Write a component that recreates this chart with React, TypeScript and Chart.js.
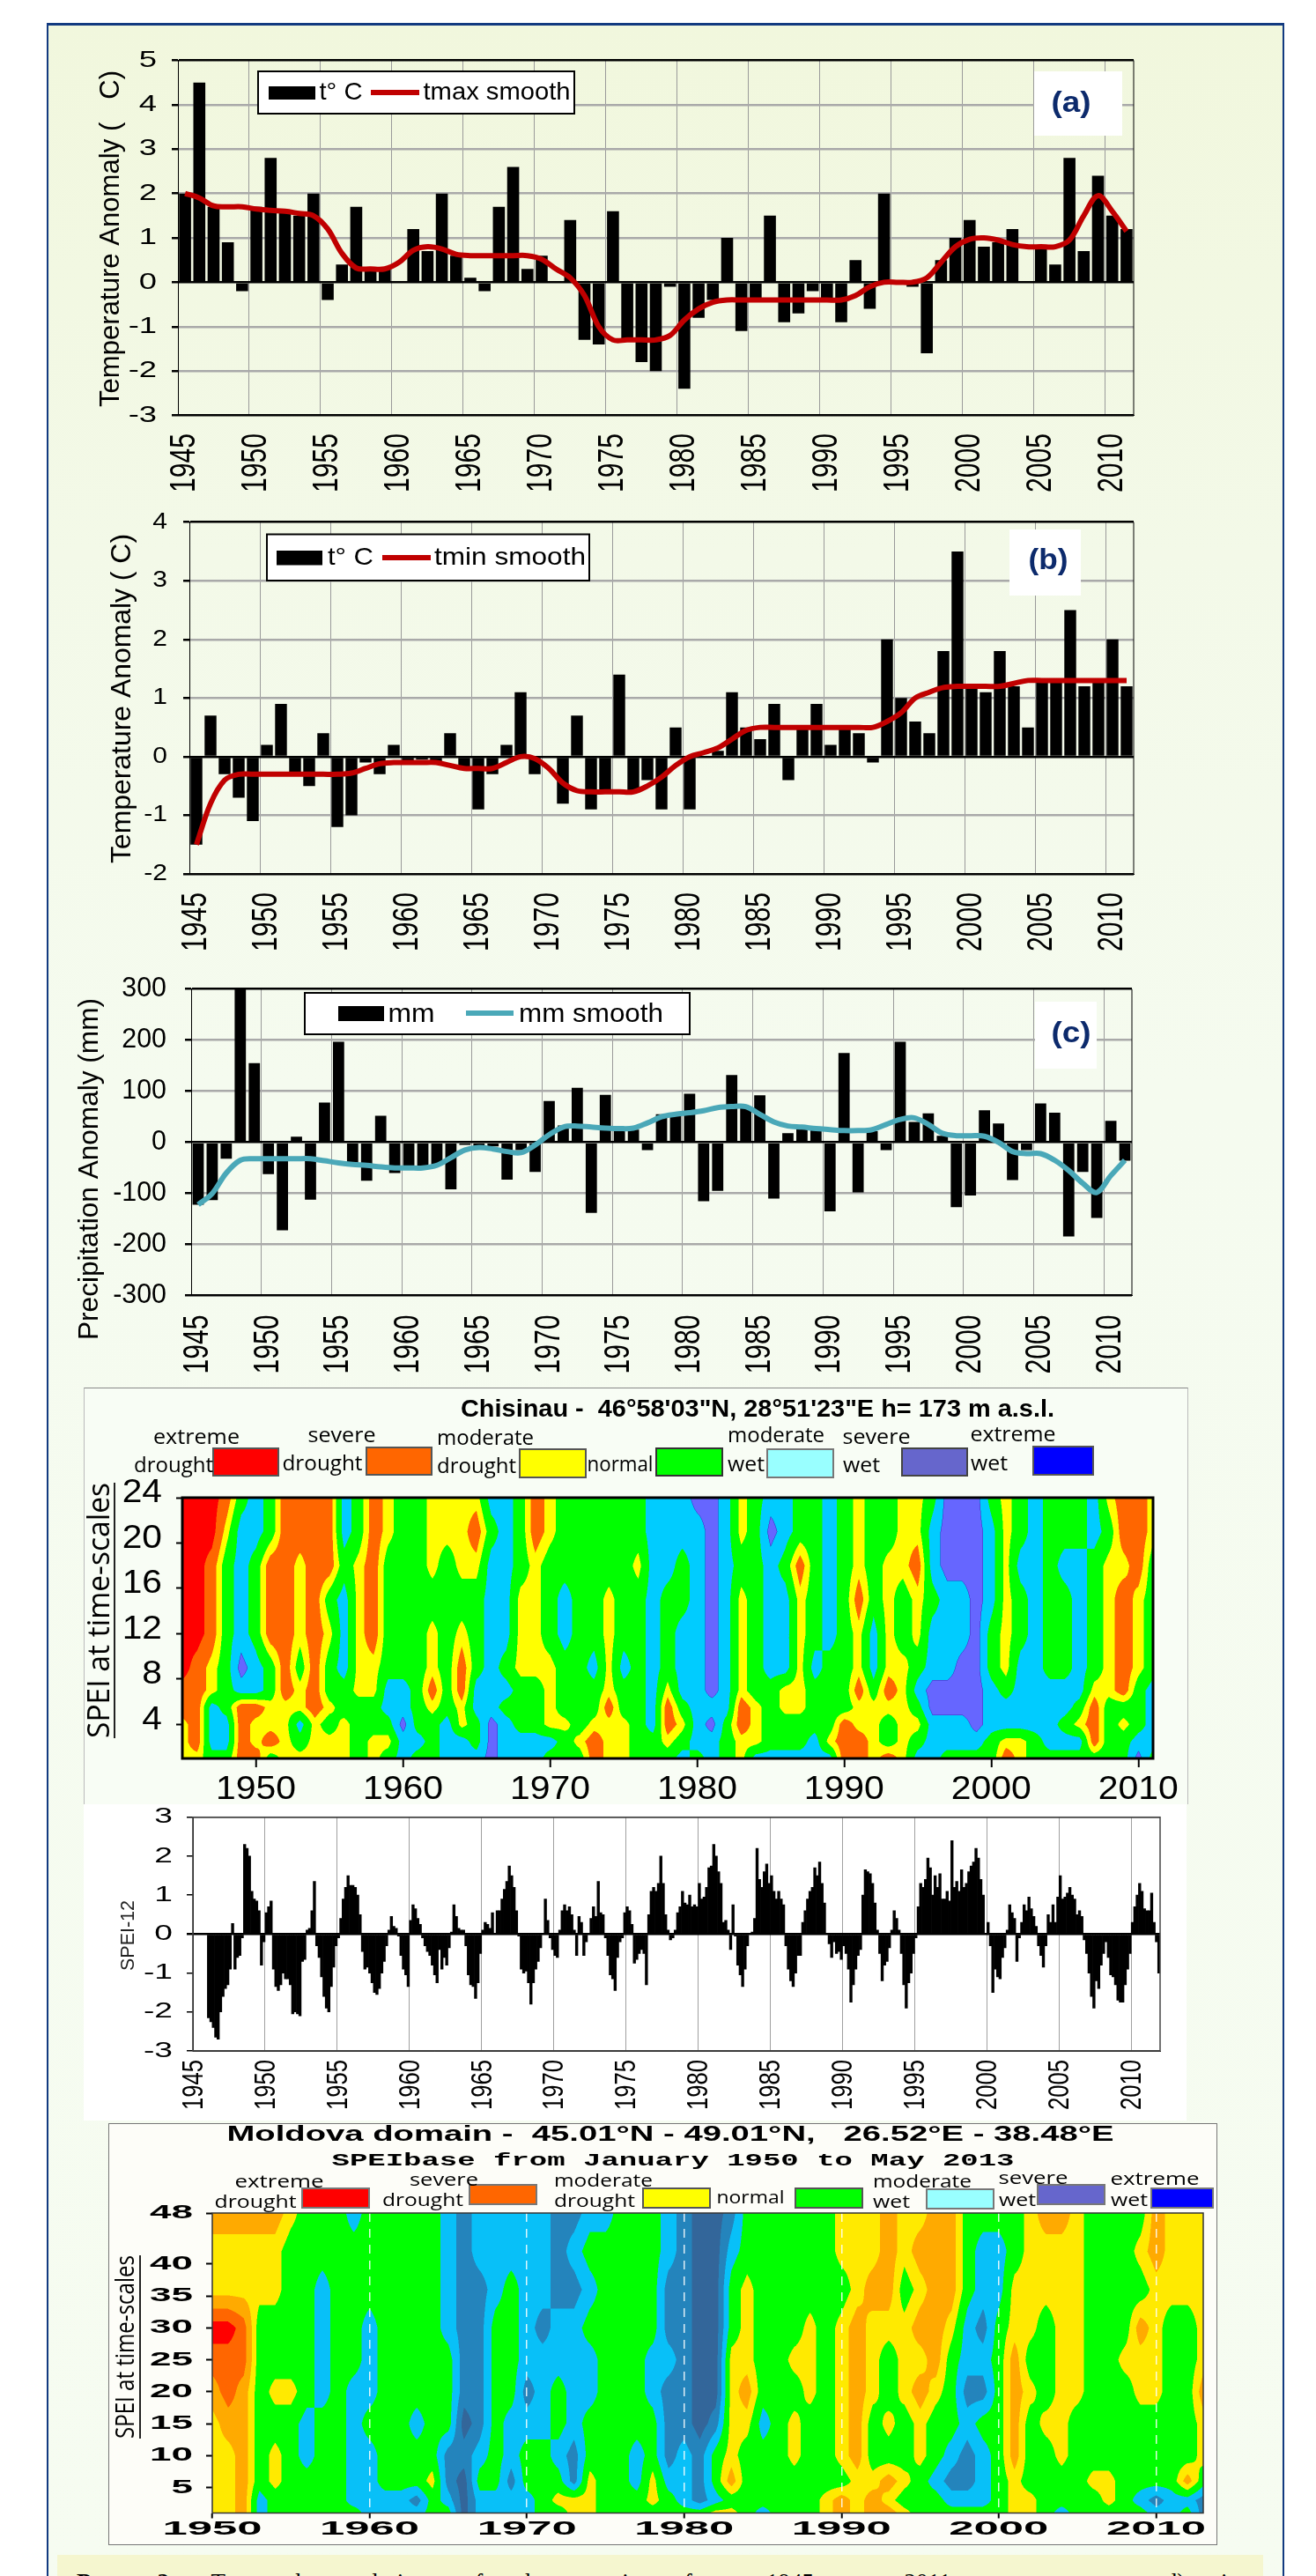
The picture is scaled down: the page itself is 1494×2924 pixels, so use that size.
import React, { useEffect, useRef } from "react";
import { Chart, registerables } from "chart.js";
Chart.register(...registerables);

// ---------- data ----------
const YEARS = ["1945","1946","1947","1948","1949","1950","1951","1952","1953","1954","1955","1956","1957","1958","1959","1960","1961","1962","1963","1964","1965","1966","1967","1968","1969","1970","1971","1972","1973","1974","1975","1976","1977","1978","1979","1980","1981","1982","1983","1984","1985","1986","1987","1988","1989","1990","1991","1992","1993","1994","1995","1996","1997","1998","1999","2000","2001","2002","2003","2004","2005","2006","2007","2008","2009","2010","2011"];
const TMAX_BARS = [2.0,4.5,1.7,0.9,-0.2,1.7,2.8,1.6,1.5,2.0,-0.4,0.4,1.7,0.3,0.3,0.0,1.2,0.7,2.0,0.6,0.1,-0.2,1.7,2.6,0.3,0.6,0.0,1.4,-1.3,-1.4,1.6,-1.3,-1.8,-2.0,-0.1,-2.4,-0.8,-0.4,1.0,-1.1,-0.4,1.5,-0.9,-0.7,-0.2,-0.4,-0.9,0.5,-0.6,2.0,0.0,-0.1,-1.6,0.5,1.0,1.4,0.8,0.9,1.2,0.0,0.8,0.4,2.8,0.7,2.4,1.5,1.2];
const TMAX_SMOOTH = [2.0,1.9,1.72,1.7,1.7,1.65,1.62,1.6,1.55,1.5,1.2,0.65,0.32,0.3,0.3,0.45,0.72,0.8,0.75,0.63,0.6,0.6,0.6,0.6,0.6,0.52,0.3,0.1,-0.3,-1.0,-1.3,-1.3,-1.3,-1.3,-1.2,-0.85,-0.6,-0.45,-0.4,-0.4,-0.4,-0.4,-0.4,-0.4,-0.4,-0.4,-0.4,-0.3,-0.1,0.0,0.0,0.0,0.1,0.45,0.8,0.97,1.0,0.95,0.85,0.8,0.8,0.8,0.95,1.5,1.95,1.6,1.15];
const TMIN_BARS = [-1.5,0.7,-0.3,-0.7,-1.1,0.2,0.9,-0.3,-0.5,0.4,-1.2,-1.0,-0.1,-0.3,0.2,-0.1,-0.05,-0.1,0.4,-0.2,-0.9,-0.3,0.2,1.1,-0.3,0.0,-0.8,0.7,-0.9,-0.6,1.4,-0.6,-0.4,-0.9,0.5,-0.9,0.0,0.1,1.1,0.5,0.3,0.9,-0.4,0.5,0.9,0.2,0.5,0.4,-0.1,2.0,1.0,0.6,0.4,1.8,3.5,1.2,1.1,1.8,1.2,0.5,1.3,1.3,2.5,1.2,1.3,2.0,1.2];
const TMIN_SMOOTH = [-1.5,-0.8,-0.4,-0.3,-0.3,-0.3,-0.3,-0.3,-0.3,-0.3,-0.3,-0.28,-0.2,-0.12,-0.1,-0.1,-0.1,-0.1,-0.15,-0.2,-0.2,-0.2,-0.1,0.0,-0.03,-0.2,-0.45,-0.58,-0.6,-0.6,-0.6,-0.6,-0.5,-0.35,-0.15,0.0,0.07,0.15,0.3,0.45,0.5,0.5,0.5,0.5,0.5,0.5,0.5,0.5,0.5,0.6,0.75,1.0,1.1,1.18,1.2,1.2,1.2,1.2,1.25,1.3,1.3,1.3,1.3,1.3,1.3,1.3,1.3];
const PRCP_BARS = [-122,-113,-32,300,155,-62,-172,11,-112,78,197,-40,-75,52,-60,-50,-50,-45,-92,-5,-8,-8,-73,-15,-58,81,33,107,-138,93,30,25,-15,55,55,95,-115,-95,132,70,92,-110,18,30,25,-135,175,-98,22,-15,197,40,57,13,-127,-104,63,37,-74,-15,76,58,-184,-58,-148,42,-36];
const PRCP_SMOOTH = [-122,-100,-60,-35,-32,-32,-32,-32,-32,-36,-40,-43,-45,-48,-50,-50,-50,-45,-30,-15,-10,-13,-18,-20,-5,15,30,32,30,28,27,28,38,50,55,58,62,68,70,70,55,40,32,30,27,25,23,23,25,35,45,48,35,18,13,13,12,0,-18,-22,-22,-35,-55,-80,-98,-65,-35];
// SPEI-12, six readings per year, 1945..2011
const SPEI12 = [
0,0,0,0,0,0,
-2.15,-2.25,-2.4,-2.65,-2.7,-2.0,
-1.6,-1.4,-1.3,-0.9,0.27,-0.9,
-0.6,-0.55,-0.1,2.3,2.2,2.0,
1.1,0.9,0.85,0.6,-0.8,-0.2,
0.55,0.7,0.85,-0.9,-1.35,-1.45,
-1.3,-1.0,-1.15,-1.15,-1.3,-2.05,
-2.0,-2.05,-2.1,-0.7,-0.65,0.1,
0.15,0.6,1.35,-0.3,-0.6,-1.1,
-1.6,-1.9,-2.0,-1.35,-0.85,-0.3,
-0.1,0.4,0.9,1.2,1.5,1.25,
1.25,1.2,1.0,0.5,-0.45,-0.9,
-0.85,-1.0,-1.25,-1.5,-1.55,-1.4,
-1.0,-0.7,-0.3,0.1,0.45,0.2,
0.15,-0.05,-0.55,-0.9,-1.05,-1.35,
0.35,0.75,0.65,0.4,0.25,-0.1,
-0.3,-0.45,-0.55,-0.8,-1.05,-1.25,
-0.4,-0.9,-0.6,-0.8,-0.35,0.05,
0.75,0.45,0.15,0.1,0.1,-0.3,
-1.05,-1.3,-1.35,-1.65,-1.25,-0.5,
0.1,0.3,0.25,0.15,0.55,0.0,
0.6,0.6,0.9,1.15,1.35,1.75,
1.5,1.2,0.6,-0.05,-0.9,-1.0,
-0.95,-1.25,-1.8,-1.25,-0.9,-0.7,
-0.35,0.0,0.9,0.35,-0.1,-0.4,
-0.55,-0.6,0.1,0.6,0.75,0.6,
0.7,0.5,0.1,-0.55,0.45,0.3,
-0.55,-0.2,0.0,0.4,0.7,0.45,
1.35,0.55,0.5,-0.1,-0.55,-1.05,
-1.15,-1.45,-0.6,-0.2,-0.1,0.55,
0.7,0.6,0.25,-0.75,-0.65,-0.5,
-0.4,-0.5,-1.3,0.5,1.1,1.2,
1.1,1.3,2.0,1.3,0.5,0.1,
-0.15,-0.1,0.1,0.55,0.7,1.1,
0.8,0.75,1.0,0.7,0.75,0.7,
1.3,0.9,0.95,1.2,1.7,1.75,
2.3,2.0,1.6,1.3,0.3,0.35,
0.1,-0.4,0.75,-0.05,-0.8,-1.05,
-1.35,-0.9,-0.3,0.0,0.05,0.4,
2.2,1.4,1.2,1.6,1.8,1.3,
1.5,1.1,0.9,1.1,0.9,0.75,
-0.3,-0.9,-1.2,-1.35,-1.0,-0.55,
-0.55,0.3,0.6,0.9,1.1,1.2,
1.7,1.5,1.85,1.3,0.8,0.0,
-0.25,-0.6,-0.2,-0.5,-0.45,-0.65,
-0.3,-0.5,-0.9,-1.75,-1.3,-0.9,
-0.55,-0.4,1.0,1.65,1.6,1.55,
1.3,0.8,0.1,-0.5,-1.2,-0.8,
-0.7,-0.35,0.1,0.6,0.4,0.1,
-0.5,-1.3,-1.9,-1.25,-1.0,-0.5,
-0.1,0.7,1.3,1.2,1.4,1.95,
1.7,1.0,1.5,1.2,1.55,0.9,
0.9,1.1,0.85,2.4,1.2,1.35,
1.1,1.65,1.2,1.3,1.6,1.75,
1.85,2.2,1.95,1.4,1.0,0.0,
0.3,-0.3,-1.5,-0.9,-1.1,-1.15,
-0.6,-0.35,0.1,0.75,0.55,0.4,
-0.7,-0.1,0.3,0.75,0.6,0.95,
0.65,0.45,0.2,-0.3,-0.55,-0.85,
-0.3,0.5,0.3,0.75,0.3,0.95,
1.5,0.9,0.95,1.05,1.2,1.0,
0.9,0.5,0.6,0.45,-0.15,-0.5,
-1.0,-1.6,-1.9,-1.2,-1.4,-0.8,
-0.5,-0.2,-0.6,-1.05,-1.1,-1.3,
-1.7,-1.75,-1.75,-1.3,-0.9,-0.5,
0.3,0.7,1.0,1.3,1.1,0.65,
0.6,0.6,1.05,0.3,-0.2,-1.0];
// SPEI class per year (digit = class index in the palette), one string per time-scale
const CHISINAU_LEVELS = [24,21,18,15,12,9,7,5.5,4,2.5,1];
const CHISINAU_ROWS = [
"00013 43111 14312 33222 24431 23333 33444 55423 44334 32332 23555 32343 33421 12",
"00024 43111 14312 33222 13431 23333 33444 45423 54334 32332 24555 42343 33431 12",
"00134 31121 13213 33232 24432 33333 32443 45433 43134 32322 14555 42443 44322 13",
"00134 31121 34213 33333 34422 34332 33433 45423 44234 31323 23445 42343 34321 23",
"00134 31121 24213 33232 34422 34332 33434 45423 44234 32423 24445 32343 34321 23",
"01235 43131 34223 33231 34322 23342 43434 45423 44243 32422 34455 32443 34321 23",
"11234 43121 33224 43131 44433 23332 33424 45423 32233 31312 45555 43444 44221 34",
"11431 12221 23334 43232 44333 23331 33413 44412 32233 32222 35555 44444 43133 34",
"21441 22242 32333 53342 35433 22322 23412 45312 33333 12232 24445 44444 32132 34",
"21441 21232 22322 44344 35444 43212 23323 44322 33342 11232 34444 32234 44133 44",
"22331 13222 22323 43344 45444 33312 23334 34324 44444 11212 44333 31233 33333 53"];
const MOLDOVA_LEVELS = [48,42,36,30,25,20,15,10,6,3,1];
const MOLDOVA_ROWS = [
"22222 34445 44444 56555 55665 54445 67764 44444 33323 32244 44322 34444 2333",
"33333 44444 44444 56555 55654 44445 67754 44444 33323 22245 54333 34443 2333",
"33333 44544 44444 56654 55665 44446 67743 44444 43224 32245 53333 34444 3333",
"00144 44544 54444 56644 56554 44446 67743 44434 32333 22356 43343 34442 3443",
"11144 44544 54444 46644 55555 44455 67733 44334 32343 32455 42443 34433 3443",
"21243 34545 54444 46644 65455 44456 67732 44434 32343 23466 42343 34443 3442",
"32244 45445 44454 47645 55454 44446 67633 54344 32434 34454 42433 44444 4443",
"33243 45445 54444 66545 44564 44546 56434 44344 32444 34565 42443 44444 4443",
"33243 44445 54443 67446 44463 44535 56424 44444 43323 45665 43444 43344 4424",
"33254 44445 55564 57555 54333 44434 56544 44443 23234 44555 43344 44345 6556",
"33254 44444 55554 47555 54433 44444 44334 54443 23223 44444 43345 44444 5546"];
const DECADES = [1950,1960,1970,1980,1990,2000,2010];
const CHISINAU_TICKS = [4,8,12,16,20,24];
const MOLDOVA_TICKS = [5,10,15,20,25,30,35,40,48];

// ---------- styling ----------
const SANS = '"Liberation Sans", Arial, sans-serif';
const HAND = '"Open Sans", sans-serif';
const MONO = '"Liberation Mono", monospace';
const NAVY = "#0c2a6c";
const CHISINAU_COLORS = ["#ff0000","#ff6600","#ffff00","#00ff00","#00ccff","#6666ff","#0000ff"];
const CHISINAU_BOUNDS = [0.5,1.62,2.38,3.5,4.55,5.5];
const MOLDOVA_COLORS = ["#ff0000","#ff6600","#ffaa00","#ffea00","#00ff00","#08c0f8","#2484bc","#33669a"];
const MOLDOVA_BOUNDS = [0.5,1.5,2.55,3.4,4.5,5.5,6.5];

type Opt = { rot?: boolean; bold?: boolean; family?: string; color?: string };
type Txt = [string, number, number, number, number, Opt?];
type Rect = [number, number, number, number, string, string?];

function fitText(ctx: any, t: string, cx: number, cy: number, len: number, size: number, o: Opt = {}) {
  ctx.save();
  ctx.translate(cx, cy);
  if (o.rot) ctx.rotate(-Math.PI / 2);
  ctx.font = `${o.bold ? "bold " : ""}${size}px ${o.family || SANS}`;
  const m = ctx.measureText(t).width;
  ctx.scale(len / m, 1);
  ctx.textAlign = "center";
  ctx.textBaseline = "middle";
  ctx.fillStyle = o.color || "#000";
  ctx.fillText(t, 0, 0);
  ctx.restore();
}

function overlayPlugin(cfg: any) {
  return {
    id: "overlay",
    afterDraw(chart: any) {
      const ctx = chart.ctx;
      const { box } = cfg;
      ctx.save();
      ctx.translate(-box.x, -box.y);
      const a = chart.chartArea;
      const ox = box.x, oy = box.y;
      ctx.strokeStyle = cfg.frameColor || "#000";
      ctx.lineWidth = cfg.frameWidth || 1;
      if (cfg.fullFrame) ctx.strokeRect(a.left + ox, a.top + oy, a.right - a.left, a.bottom - a.top);
      else {
        ctx.beginPath();
        ctx.moveTo(a.right + ox, a.top + oy);
        ctx.lineTo(a.right + ox, a.bottom + oy);
        ctx.stroke();
      }
      (cfg.rects || []).forEach((r: Rect) => {
        ctx.fillStyle = r[4];
        ctx.fillRect(r[0], r[1], r[2] - r[0], r[3] - r[1]);
        if (r[5]) {
          ctx.strokeStyle = r[5];
          ctx.lineWidth = 2;
          ctx.strokeRect(r[0], r[1], r[2] - r[0], r[3] - r[1]);
        }
      });
      (cfg.texts || []).forEach((t: Txt) => fitText(ctx, t[0], t[1], t[2], t[3], t[4], t[5]));
      const yl = cfg.yLabels;
      const ys = chart.scales.y;
      ys.ticks.forEach((tk: any, i: number) => {
        const s = String(tk.label);
        ctx.font = `${yl.bold ? "bold " : ""}${yl.size}px ${SANS}`;
        const len = ctx.measureText(s).width * yl.sx;
        fitText(ctx, s, yl.right - len / 2, ys.getPixelForTick(i) + oy + (yl.dy || 0), len, yl.size, { bold: yl.bold });
      });
      const xl = cfg.xLabels;
      const xs = chart.scales.x;
      xs.ticks.forEach((tk: any, i: number) => {
        const s = String(tk.label ?? "");
        if (!s) return;
        fitText(ctx, s, xs.getPixelForTick(i) + ox, xl.cy, xl.len, xl.size, { rot: xl.rot, bold: xl.bold });
      });
      ctx.restore();
    },
  };
}

function heatPlugin(rows: string[], levels: number[], firstYear: number, colors: string[], bounds: number[], outlineClass: number) {
  const grid = rows.map((r) => r.replace(/ /g, "").split("").map(Number));
  const rgb = colors.map((c) => [parseInt(c.slice(1, 3), 16), parseInt(c.slice(3, 5), 16), parseInt(c.slice(5, 7), 16)]);
  return {
    id: "heat",
    beforeDraw(chart: any) {
      const a = chart.chartArea;
      const xs = chart.scales.x, ys = chart.scales.y;
      const SS = 2;
      const W = Math.round((a.right - a.left) * SS), H = Math.round((a.bottom - a.top) * SS);
      const off = document.createElement("canvas");
      off.width = W; off.height = H;
      const octx = off.getContext("2d") as CanvasRenderingContext2D;
      const img = octx.createImageData(W, H);
      const nc = grid[0].length;
      const cols = new Float32Array(W);
      for (let i = 0; i < W; i++) cols[i] = Math.max(0, Math.min(nc - 1.001, xs.getValueForPixel(a.left + (i + 0.5) / SS) - firstYear));
      const cls = new Uint8Array(W * H);
      for (let j = 0; j < H; j++) {
        const yv = ys.getValueForPixel(a.top + (j + 0.5) / SS);
        let r = 0;
        while (r < levels.length - 2 && yv < levels[r + 1]) r++;
        const fy = Math.max(0, Math.min(1, (levels[r] - yv) / (levels[r] - levels[r + 1])));
        const g0 = grid[r], g1 = grid[r + 1];
        for (let i = 0; i < W; i++) {
          const c = Math.floor(cols[i]);
          const fx = cols[i] - c;
          const top = g0[c] * (1 - fx) + g0[c + 1] * fx;
          const bot = g1[c] * (1 - fx) + g1[c + 1] * fx;
          const v = top * (1 - fy) + bot * fy;
          let k = 0;
          while (k < bounds.length && v >= bounds[k]) k++;
          cls[j * W + i] = k;
        }
      }
      for (let j = 0; j < H; j++) {
        for (let i = 0; i < W; i++) {
          const p = j * W + i;
          const k = cls[p];
          let col = rgb[k];
          if (k === outlineClass && i > 0 && j > 0 && i < W - 1 && j < H - 1 &&
            (cls[p - 1] !== k || cls[p + 1] !== k || cls[p - W] !== k || cls[p + W] !== k)) col = [58, 43, 191];
          const q = p * 4;
          img.data[q] = col[0]; img.data[q + 1] = col[1]; img.data[q + 2] = col[2]; img.data[q + 3] = 255;
        }
      }
      octx.putImageData(img, 0, 0);
      chart.ctx.save();
      chart.ctx.imageSmoothingEnabled = true;
      chart.ctx.drawImage(off, a.left, a.top, a.right - a.left, a.bottom - a.top);
      chart.ctx.restore();
    },
  };
}

function fixPlot(box: any, plot: any) {
  return {
    yFit: (s: any) => { s.width = plot.l - box.x; },
    xFit: (s: any) => { s.height = box.y + box.h - plot.b; },
    padding: { top: plot.t - box.y, right: box.x + box.w - plot.r, left: 0, bottom: 0 },
  };
}

function barConfig(cfg: any) {
  const fx = fixPlot(cfg.box, cfg.plot);
  const { min, max, step } = cfg.y;
  return {
    type: "bar",
    data: {
      labels: cfg.labels,
      datasets: [
        ...(cfg.smooth ? [{ type: "line", label: cfg.smoothLabel, data: cfg.smooth, borderColor: cfg.lineColor, borderWidth: 6, pointRadius: 0, tension: 0.35, order: 0, fill: false }] : []),
        { type: "bar", label: cfg.barLabel, data: cfg.bars, backgroundColor: "#000", barPercentage: cfg.barPct, categoryPercentage: 1, order: 1 },
      ],
    },
    options: {
      animation: false, responsive: false, maintainAspectRatio: false, devicePixelRatio: 1, events: [],
      layout: { padding: fx.padding, autoPadding: false },
      plugins: { legend: { display: false }, tooltip: { enabled: false } },
      scales: {
        x: {
          afterFit: fx.xFit,
          offset: true,
          ticks: { display: false, autoSkip: false, maxRotation: 0, callback: (_: any, i: number) => (i % cfg.every === 0 ? cfg.labels[i] : "") },
          grid: { drawTicks: false, offset: true, color: (c: any) => (c.index % cfg.every === 0 ? cfg.vGrid : "rgba(0,0,0,0)"), lineWidth: cfg.vWidth || 1 },
          border: { display: true, color: "#000", width: 1 },
        },
        y: {
          min, max, afterFit: fx.yFit,
          ticks: { display: false, stepSize: step, callback: (v: number) => String(v) },
          grid: {
            tickLength: 7, tickColor: "#000",
            color: (c: any) => {
              const v = c.tick?.value;
              if (v === 0) return "#000";
              if (v === min || v === max) return cfg.edge;
              return cfg.hGrid;
            },
            lineWidth: (c: any) => { const v = c.tick?.value; return v === 0 ? cfg.zeroW : cfg.hWidth; },
          },
          border: { display: true, color: "#000", width: 1 },
        },
      },
    },
    plugins: [overlayPlugin(cfg)],
  };
}

function heatConfig(cfg: any) {
  const fx = fixPlot(cfg.box, cfg.plot);
  const grid = cfg.rows.map((r: string) => r.replace(/ /g, ""));
  const points: any[] = [];
  grid.forEach((r: string, j: number) => r.split("").forEach((d, i) => points.push({ x: cfg.firstYear + i, y: cfg.levels[j], v: Number(d) })));
  return {
    type: "scatter",
    data: { datasets: [{ label: "SPEI class", data: points, pointRadius: 0, showLine: false }] },
    options: {
      animation: false, responsive: false, maintainAspectRatio: false, devicePixelRatio: 1, events: [],
      layout: { padding: fx.padding, autoPadding: false },
      plugins: { legend: { display: false }, tooltip: { enabled: false } },
      scales: {
        x: {
          type: "linear", min: cfg.xMin, max: cfg.xMax, afterFit: fx.xFit,
          afterBuildTicks: (s: any) => { s.ticks = DECADES.map((v) => ({ value: v })); },
          ticks: { display: false, autoSkip: false, callback: (v: number) => String(v) },
          grid: {
            tickLength: cfg.xTick, tickColor: "#000", tickWidth: 2,
            drawOnChartArea: cfg.dashed,
            color: (c: any) => (c.tick?.value === cfg.xMin ? "rgba(0,0,0,0)" : "rgba(255,255,255,0.85)"),
            lineWidth: 1.5,
            tickBorderDash: [],
          },
          border: { display: false, dash: [10, 8] },
        },
        y: {
          min: 1, max: cfg.yMax, afterFit: fx.yFit,
          afterBuildTicks: (s: any) => { s.ticks = cfg.yTicks.map((v: number) => ({ value: v })); },
          ticks: { display: false, autoSkip: false, callback: (v: number) => String(v) },
          grid: { drawOnChartArea: false, tickLength: 7, tickColor: "#000", tickWidth: 2 },
          border: { display: false },
        },
      },
    },
    plugins: [heatPlugin(cfg.rows, cfg.levels, cfg.firstYear, cfg.colors, cfg.bounds, cfg.outlineClass), overlayPlugin(cfg)],
  };
}

// ---------- panels ----------
const PANEL_A = {
  box: { x: 60, y: 40, w: 1260, h: 530 }, plot: { l: 202, t: 68.5, r: 1287, b: 471.5 },
  labels: YEARS, bars: TMAX_BARS, smooth: TMAX_SMOOTH, barLabel: "t° C", smoothLabel: "tmax smooth", lineColor: "#c00000",
  y: { min: -3, max: 5, step: 1 }, every: 5, barPct: 0.84, vGrid: "#9a9a9a", hGrid: "#a9a9a9", hWidth: 2.5, zeroW: 2.5, edge: "#000",
  yLabels: { right: 178, size: 26, sx: 1.4 }, xLabels: { cy: 525.5, len: 67, size: 40, rot: true },
  rects: [[293, 81, 652, 129, "#fff", "#000"], [305, 98, 358, 113, "#000"], [421, 102, 476, 108, "#c00000"], [1174, 81, 1274, 154, "#fff"]] as Rect[],
  texts: [
    ["Temperature Anomaly (   C)", 126, 271, 382, 31, { rot: true }],
    ["t° C", 387, 105, 49, 28], ["tmax smooth", 564, 105, 167, 28],
    ["(a)", 1216, 118, 45, 34, { bold: true, color: NAVY }],
  ] as Txt[],
};
const PANEL_B = {
  box: { x: 60, y: 570, w: 1260, h: 530 }, plot: { l: 215, t: 592.7, r: 1287, b: 992 },
  labels: YEARS, bars: TMIN_BARS, smooth: TMIN_SMOOTH, barLabel: "t° C", smoothLabel: "tmin smooth", lineColor: "#c00000",
  y: { min: -2, max: 4, step: 1 }, every: 5, barPct: 0.84, vGrid: "#9a9a9a", hGrid: "#a9a9a9", hWidth: 2.5, zeroW: 2.5, edge: "#000",
  yLabels: { right: 190, size: 25, sx: 1.2 }, xLabels: { cy: 1046.5, len: 67, size: 40, rot: true },
  rects: [[303, 606.5, 669, 659, "#fff", "#000"], [314, 625, 366, 641.5, "#000"], [434, 630, 489, 636, "#c00000"], [1146, 601, 1227, 676, "#fff"]] as Rect[],
  texts: [
    ["Temperature Anomaly ( C)", 139, 793, 374, 31, { rot: true }],
    ["t° C", 398, 633, 52, 28], ["tmin smooth", 579, 633, 172, 28],
    ["(b)", 1190, 637, 45, 34, { bold: true, color: NAVY }],
  ] as Txt[],
};
const PANEL_C = {
  box: { x: 60, y: 1105, w: 1260, h: 470 }, plot: { l: 217, t: 1122.7, r: 1285, b: 1470.7 },
  labels: YEARS, bars: PRCP_BARS, smooth: PRCP_SMOOTH, barLabel: "mm", smoothLabel: "mm smooth", lineColor: "#4aa8b8",
  y: { min: -300, max: 300, step: 100 }, every: 5, barPct: 0.8, vGrid: "#9a9a9a", hGrid: "#a9a9a9", hWidth: 2.5, zeroW: 2.5, edge: "#000",
  yLabels: { right: 189, size: 31, sx: 0.98 }, xLabels: { cy: 1526, len: 67, size: 40, rot: true },
  rects: [[346, 1127, 783, 1174, "#fff", "#000"], [384, 1142, 436, 1159, "#000"], [529, 1147, 583, 1153, "#4aa8b8"], [1175, 1137, 1245, 1213, "#fff"]] as Rect[],
  texts: [
    ["Precipitation Anomaly (mm)", 102, 1327, 388, 31, { rot: true }],
    ["mm", 467, 1152, 53, 30], ["mm smooth", 671, 1152, 164, 30],
    ["(c)", 1216, 1174, 45, 34, { bold: true, color: NAVY }],
  ] as Txt[],
};
const PANEL_E = {
  box: { x: 95, y: 2048, w: 1252, h: 359 }, plot: { l: 219, t: 2062.7, r: 1317, b: 2328 },
  labels: YEARS.flatMap((y) => [y, y, y, y, y, y]), bars: SPEI12, barLabel: "SPEI-12",
  y: { min: -3, max: 3, step: 1 }, every: 30, barPct: 1, vGrid: "#a0a0a0", hGrid: "rgba(0,0,0,0)", hWidth: 1.5, zeroW: 2.5, edge: "#444",
  yLabels: { right: 196, size: 24, sx: 1.55 }, xLabels: { cy: 2366.5, len: 57, size: 34, rot: true },
  fullFrame: true, frameColor: "#444", frameWidth: 1.5,
  texts: [["SPEI-12", 146, 2197, 80, 22, { rot: true, color: "#222" }]] as Txt[],
};
const PANEL_D = {
  box: { x: 95, y: 1575, w: 1254, h: 473 }, plot: { l: 207, t: 1700, r: 1309, b: 1996 },
  rows: CHISINAU_ROWS, levels: CHISINAU_LEVELS, firstYear: 1945, xMin: 1945, xMax: 2011, yMax: 24, yTicks: CHISINAU_TICKS,
  colors: CHISINAU_COLORS, bounds: CHISINAU_BOUNDS, outlineClass: 5, dashed: false, xTick: 10,
  fullFrame: true, frameWidth: 3,
  yLabels: { right: 184, size: 37, sx: 1.1, dy: -5 }, xLabels: { cy: 2032, len: 91, size: 37 },
  rects: [
    [242, 1644, 316, 1675, "#ff0000", "#555"], [416, 1643, 490, 1674, "#ff6600", "#555"], [590, 1645, 665, 1677, "#ffff00", "#555"],
    [745, 1644, 820, 1675, "#00ff00", "#333"], [871, 1645, 946, 1677, "#99ffff", "#777"], [1024, 1644, 1098, 1675, "#6666cc", "#444"],
    [1173, 1642, 1241, 1674, "#0000ff", "#555"], [129, 1683, 131, 1973, "#222"],
  ] as Rect[],
  texts: [
    ["Chisinau -  46°58'03\"N, 28°51'23\"E h= 173 m a.s.l.", 860, 1600, 674, 28, { bold: true }],
    ["extreme", 223, 1632, 98, 23, { family: HAND }], ["drought", 197, 1664, 90, 23, { family: HAND }],
    ["severe", 388, 1630, 77, 23, { family: HAND }], ["drought", 366, 1662, 91, 23, { family: HAND }],
    ["moderate", 551, 1633, 110, 23, { family: HAND }], ["drought", 541, 1665, 90, 23, { family: HAND }],
    ["normal", 704, 1663, 75, 23, { family: HAND }],
    ["moderate", 881, 1630, 110, 23, { family: HAND }], ["wet", 847, 1663, 42, 23, { family: HAND }],
    ["severe", 995, 1632, 77, 23, { family: HAND }], ["wet", 978, 1664, 42, 23, { family: HAND }],
    ["wet", 1123, 1662, 42, 23, { family: HAND }], ["extreme", 1150, 1629, 97, 23, { family: HAND }],
    ["SPEI at time-scales", 114, 1828, 290, 34, { rot: true, family: HAND }],
  ] as Txt[],
};
const PANEL_F = {
  box: { x: 123, y: 2410, w: 1259, h: 479 }, plot: { l: 241, t: 2512, r: 1366, b: 2852.5 },
  rows: MOLDOVA_ROWS, levels: MOLDOVA_LEVELS, firstYear: 1950, xMin: 1950, xMax: 2013, yMax: 48, yTicks: MOLDOVA_TICKS,
  colors: MOLDOVA_COLORS, bounds: MOLDOVA_BOUNDS, outlineClass: -1, dashed: true, xTick: 6,
  fullFrame: true, frameWidth: 1.5, frameColor: "#333",
  yLabels: { right: 219, size: 22, sx: 2.0, bold: true }, xLabels: { cy: 2870.5, len: 113, size: 22, bold: true },
  rects: [
    [343, 2484, 419, 2506, "#ff0000", "#777"], [533, 2480, 609, 2502, "#ff6600", "#777"], [730, 2484, 806, 2506, "#ffff00", "#555"],
    [903, 2484, 979, 2506, "#00ff00", "#555"], [1052, 2485, 1128, 2507, "#99ffff", "#777"], [1178, 2480, 1254, 2502, "#6666cc", "#777"],
    [1307, 2484, 1377, 2506, "#0000ff", "#777"], [158, 2560, 160, 2768, "#222"],
  ] as Rect[],
  texts: [
    ["Moldova domain -  45.01°N - 49.01°N,   26.52°E - 38.48°E", 761, 2423, 1007, 24, { bold: true }],
    ["SPEIbase from January 1950 to May 2013", 764, 2453, 775, 20, { bold: true, family: MONO }],
    ["extreme", 317, 2477, 101, 20, { family: HAND }], ["drought", 290, 2500, 93, 20, { family: HAND }],
    ["severe", 504, 2475, 78, 20, { family: HAND }], ["drought", 480, 2498, 92, 20, { family: HAND }],
    ["moderate", 685, 2476, 112, 20, { family: HAND }], ["drought", 675, 2499, 92, 20, { family: HAND }],
    ["normal", 852, 2495, 77, 20, { family: HAND }],
    ["moderate", 1047, 2477, 112, 20, { family: HAND }], ["wet", 1012, 2500, 42, 20, { family: HAND }],
    ["severe", 1173, 2473, 79, 20, { family: HAND }], ["wet", 1155, 2498, 42, 20, { family: HAND }],
    ["extreme", 1311, 2474, 101, 20, { family: HAND }], ["wet", 1282, 2498, 42, 20, { family: HAND }],
    ["SPEI at time-scales", 143, 2664, 208, 30, { rot: true, family: HAND }],
  ] as Txt[],
};

function Panel({ cfg, make }: { cfg: any; make: (c: any) => any }) {
  const ref = useRef<HTMLCanvasElement>(null);
  useEffect(() => {
    const chart = new Chart(ref.current as any, make(cfg));
    return () => chart.destroy();
  }, []);
  return (
    <canvas ref={ref} width={cfg.box.w} height={cfg.box.h}
      style={{ position: "absolute", left: cfg.box.x, top: cfg.box.y, width: cfg.box.w, height: cfg.box.h, display: "block" }} />
  );
}

const abs = (l: number, t: number, w: number, h: number, extra: any = {}) => ({ position: "absolute" as const, left: l, top: t, width: w, height: h, boxSizing: "border-box" as const, ...extra });

export default function App() {
  return (
    <div style={abs(0, 0, 1494, 2924, { background: "#fff", overflow: "hidden" })}>
      <div style={abs(53, 26, 1405, 2960, { background: "linear-gradient(#f1f7dd 0px, #f3f9e8 600px, #f5fbef 1200px, #f6fcf1 2924px)", borderTop: "3px solid #123a80", borderLeft: "2px solid #123a80", borderRight: "2px solid #123a80" })} />
      <div style={abs(95, 1575, 1254, 473, { background: "#f8fdf5", borderTop: "1px solid #888", borderLeft: "1px solid #bbb", borderRight: "1px solid #bbb" })} />
      <div style={abs(95, 2048, 1252, 359, { background: "#fff" })} />
      <div style={abs(123, 2410, 1259, 479, { background: "#fdfdf8", border: "1px solid #777" })} />
      <div style={abs(65, 2900, 1369, 24, { background: "#f5f6cf", overflow: "hidden" })}>
        <div style={{ position: "absolute", left: 22, top: 14, width: 1320, fontFamily: '"Liberation Serif", serif', fontSize: 27, lineHeight: "34px", color: "#000", textAlign: "justify", textAlignLast: "justify", whiteSpace: "nowrap" }}>
          <b>Рис. 2.</b> Temporal evolution of data series from 1945 to 2011 ........................ d) in
        </div>
      </div>
      <Panel cfg={PANEL_A} make={barConfig} />
      <Panel cfg={PANEL_B} make={barConfig} />
      <Panel cfg={PANEL_C} make={barConfig} />
      <Panel cfg={PANEL_D} make={heatConfig} />
      <Panel cfg={PANEL_E} make={barConfig} />
      <Panel cfg={PANEL_F} make={heatConfig} />
    </div>
  );
}
